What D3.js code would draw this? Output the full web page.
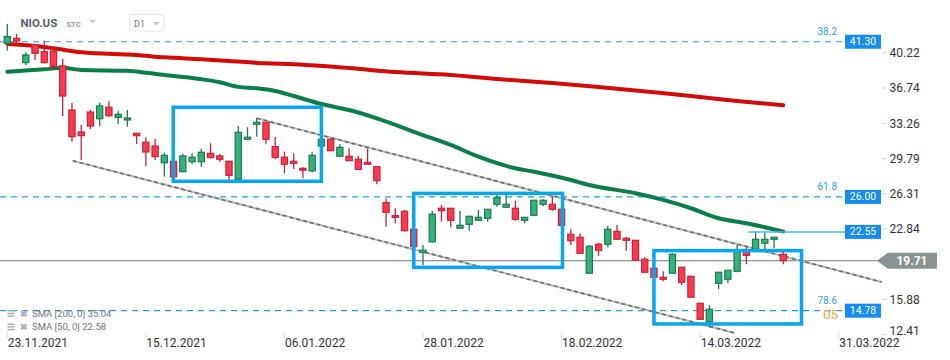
<!DOCTYPE html>
<html><head><meta charset="utf-8">
<script src="https://cdn.jsdelivr.net/npm/d3@7"></script>
<style>body{margin:0;background:#fff}svg{display:block;font-family:Roboto,"Noto Sans",sans-serif}</style>
</head><body><svg id="c" width="950" height="360"></svg>
<script>
// ---- data ----
const opens  = [41.15,41.64,39.24,40.98,40.32,40.39,38.91,34.57,32.40,34.37,33.71,34.84,33.85,33.59,32.27,31.39,31.02,29.37,29.51,28.49,29.47,29.47,30.30,30.04,29.51,27.74,31.68,33.16,33.36,30.95,29.91,29.51,28.82,28.56,31.02,31.68,30.01,30.01,29.71,29.41,28.98,25.43,24.15,24.58,22.81,20.52,21.58,24.88,24.88,22.91,23.30,23.69,23.89,25.27,24.98,24.88,23.69,24.19,25.27,25.27,24.78,22.31,22.02,18.47,21.33,21.33,22.61,21.92,21.72,19.85,18.96,18.07,18.47,19.06,18.17,15.51,13.69,17.48,17.88,18.66,20.64,20.83,21.43,21.82,20.34];
const highs  = [43.05,42.07,40.26,41.08,41.41,40.72,39.60,35.26,33.09,34.57,35.29,35.46,34.50,34.57,32.27,31.88,31.71,30.36,29.51,30.23,30.30,30.75,31.29,30.20,29.51,32.99,32.87,33.78,33.36,31.91,30.46,30.30,28.92,30.40,31.75,31.78,31.19,30.79,30.04,30.79,28.98,25.86,24.88,24.71,22.81,21.26,24.61,25.20,24.88,24.61,24.09,24.71,24.78,26.19,26.19,25.60,23.99,25.67,25.77,26.09,24.78,22.81,22.41,21.26,21.49,23.13,23.23,22.08,21.72,20.04,18.96,18.66,20.44,19.06,18.17,15.51,15.31,18.57,18.76,21.26,21.03,22.57,22.51,22.02,20.60];
const lows   = [40.42,41.08,39.01,39.50,39.15,38.62,33.98,31.45,29.64,32.70,32.99,33.91,33.19,32.93,31.22,29.05,29.64,27.99,27.87,28.49,29.25,28.98,29.87,29.47,27.50,27.74,31.68,31.94,31.19,29.71,28.33,28.75,27.84,28.43,31.02,30.56,30.01,29.57,28.72,29.22,27.24,23.06,23.40,22.57,21.09,19.29,21.48,23.56,23.00,22.91,22.67,23.69,23.56,25.04,24.98,23.65,23.40,24.19,25.07,24.64,23.20,21.26,20.44,18.47,20.20,21.03,21.82,20.70,19.75,18.57,18.07,17.68,18.47,17.28,16.10,13.93,13.14,16.89,17.48,18.57,19.36,20.83,20.83,20.93,19.36];
const closes = [41.80,41.38,40.00,40.16,39.24,38.84,35.95,31.94,32.04,32.99,34.97,34.01,34.15,33.78,32.04,30.43,29.97,30.10,27.99,30.04,29.91,30.40,29.87,29.71,28.13,32.37,31.88,33.36,31.68,29.89,29.22,29.31,28.63,30.10,31.68,30.56,30.89,29.57,28.72,29.22,27.60,24.48,23.99,22.67,21.09,20.74,24.29,24.64,23.69,23.20,24.09,23.99,24.78,25.92,25.27,23.79,23.99,25.67,25.67,24.78,23.20,21.68,20.44,21.13,20.74,22.81,21.82,21.72,19.75,18.57,18.07,17.88,20.34,17.58,16.10,13.93,14.92,18.57,18.76,20.64,20.24,21.82,21.82,22.02,19.71];

const sma200Idx = [0,3,5,8,14,17,21,24,28,31,37,42,48,53,59,64,70,75,79,84];
const sma200Val = [41.08,40.88,40.65,40.26,39.99,39.76,39.57,39.40,39.17,39.08,38.71,38.31,38.02,37.63,37.23,36.84,36.33,35.85,35.46,35.04];
const sma50Idx = [0,4,6,8,13,15,18,21,23,25,27,29,31,34,37,40,45,48,51,55,57,61,63,68,71,74,77,80,84];
const sma50Val = [38.35,38.58,38.74,38.51,38.44,38.25,37.92,37.60,37.30,36.85,36.71,36.45,35.95,35.16,34.57,33.75,32.10,31.12,29.96,28.82,28.48,27.67,27.17,26.36,25.70,24.88,23.89,23.40,22.58];

const yTicks = [40.22,36.74,33.26,29.79,26.31,22.84,15.88,12.41];
const xTickIdx = [0,15,30,45,60,75,90];
const xTickLabels = ["23.11.2021","15.12.2021","06.01.2022","28.01.2022","18.02.2022","14.03.2022","31.03.2022"];

const fibValues = [41.30,26.00,14.78];
const fibLabels = ["38.2","61.8","78.6"];
const alertValue = 22.55;
const lastPrice = 19.71;

// channel lines: [startIdx, startPrice, endIdx, endPrice]
const channelUpper = [27.0,33.75,94.66,17.61];
const channelLower = [7.08,29.57,78.76,12.58];
// highlight boxes: [idx0, idx1, priceTop, priceBottom]
const boxIdx0 = [17.96,44.0,70.0];
const boxIdx1 = [34.0,60.1,85.97];
const boxTop  = [34.84,26.35,20.70];
const boxBot  = [27.54,19.05,13.47];

const smaLegend = ["SMA  [200,  0]  35.04","SMA  [50,  0]  22.58"];

// ---- scales ----
const svg = d3.select("#c");
const x = d3.scaleLinear().domain([0,84]).range([7.3,783.3]);
const y = d3.scaleLinear().domain([12.41,40.22]).range([334.7,52.7]);
const plotRight = 882, plotBottom = 335;

svg.append("defs").append("clipPath").attr("id","clip")
  .append("rect").attr("x",0).attr("y",0).attr("width",plotRight).attr("height",plotBottom);
const plot = svg.append("g").attr("clip-path","url(#clip)");

const blue = "#1f9ee8";

// fib dashed lines
fibValues.forEach((v,i)=>{
  plot.append("line").attr("x1",0).attr("x2",845).attr("y1",y(v)).attr("y2",y(v))
    .attr("stroke",blue).attr("stroke-width",1.2).attr("stroke-dasharray","6,5");
});
// last price line
plot.append("line").attr("x1",0).attr("x2",plotRight).attr("y1",y(lastPrice)).attr("y2",y(lastPrice))
  .attr("stroke","#8c9595").attr("stroke-width",1.2);
// alert line
svg.append("line").attr("x1",x(80.2)).attr("x2",845).attr("y1",y(alertValue)).attr("y2",y(alertValue))
  .attr("stroke","#4fb3f6").attr("stroke-width",1.5);

// channel lines
[channelUpper,channelLower].forEach(c=>{
  plot.append("line").attr("x1",x(c[0])).attr("y1",y(c[1])).attr("x2",x(c[2])).attr("y2",y(c[3]))
    .attr("stroke","#bdbdbd").attr("stroke-width",2);
  plot.append("line").attr("x1",x(c[0])).attr("y1",y(c[1])).attr("x2",x(c[2])).attr("y2",y(c[3]))
    .attr("stroke","#6e6e6e").attr("stroke-width",1.6).attr("stroke-dasharray","4,3");
});

// SMA lines
const lineGen = d3.line().x(d=>x(d[0])).y(d=>y(d[1])).curve(d3.curveMonotoneX);
plot.append("path").attr("d",lineGen(sma200Idx.map((k,i)=>[k,sma200Val[i]])))
  .attr("fill","none").attr("stroke","#d40a0a").attr("stroke-width",4).attr("stroke-linecap","round");
plot.append("path").attr("d",lineGen(sma50Idx.map((k,i)=>[k,sma50Val[i]])))
  .attr("fill","none").attr("stroke","#0b7d4b").attr("stroke-width",4).attr("stroke-linecap","round");

// candles
const candles = opens.map((o,i)=>({i,o,h:highs[i],l:lows[i],c:closes[i]}));
const bw = 6.2;
const cg = plot.append("g").selectAll("g").data(candles).join("g");
cg.append("line").attr("x1",d=>x(d.i)).attr("x2",d=>x(d.i)).attr("y1",d=>y(d.h)).attr("y2",d=>y(d.l))
  .attr("stroke",d=>d.c>=d.o?"#1c7a4c":"#c3243a").attr("stroke-width",1.3);
cg.append("rect").attr("x",d=>x(d.i)-bw/2).attr("width",bw)
  .attr("y",d=>y(Math.max(d.o,d.c))).attr("height",d=>Math.max(1.5,Math.abs(y(d.o)-y(d.c))))
  .attr("fill",d=>d.c>=d.o?"#34b27a":"#fb3a52").attr("stroke",d=>d.c>=d.o?"#1c7a4c":"#c3243a").attr("stroke-width",1.2);

// highlight boxes
boxIdx0.forEach((b,i)=>{
  svg.append("rect").attr("x",x(b)).attr("y",y(boxTop[i]))
    .attr("width",x(boxIdx1[i])-x(b)).attr("height",y(boxBot[i])-y(boxTop[i]))
    .attr("fill","none").attr("stroke","#07a6ee").attr("stroke-width",3.5);
});

// right-side labels for fib / alert
fibValues.forEach((v,i)=>{
  svg.append("text").attr("x",837).attr("y",y(v)-6.5).attr("text-anchor","end")
    .attr("font-size",10).attr("fill","#2c9ee8").text(fibLabels[i]);
});
svg.append("text").attr("x",823).attr("y",y(fibValues[2])+8.8).attr("font-size",13.5)
  .attr("fill","#f6a12a").attr("opacity",0.9).text("05");
[...fibValues,alertValue].forEach(v=>{
  svg.append("rect").attr("x",845).attr("y",y(v)-7).attr("width",36).attr("height",14).attr("fill","#148cf0");
  svg.append("text").attr("x",863).attr("y",y(v)+3.6).attr("text-anchor","middle")
    .attr("font-size",10.5).attr("fill","#fff").text(v.toFixed(2));
});

// y-axis
yTicks.forEach(t=>{
  const yy = Math.min(y(t),330.5);
  svg.append("line").attr("x1",882).attr("x2",887).attr("y1",y(t)).attr("y2",y(t)).attr("stroke","#d6d6d6");
  svg.append("text").attr("x",889.5).attr("y",yy+4.3).attr("font-size",12).attr("fill","#333").text(t.toFixed(2));
});
// last price marker
const ly = y(lastPrice);
svg.append("path").attr("d",`M877,${ly} L888,${ly-8} L937,${ly-8} L937,${ly+8} L888,${ly+8} Z`).attr("fill","#8a9393");
svg.append("text").attr("x",912).attr("y",ly+4.2).attr("text-anchor","middle")
  .attr("font-size",12).attr("font-weight","bold").attr("fill","#fff").text(lastPrice.toFixed(2));

// x-axis
xTickIdx.forEach((k,i)=>{
  const xx = x(k);
  svg.append("line").attr("x1",xx).attr("x2",xx).attr("y1",333).attr("y2",338).attr("stroke","#d6d6d6");
  svg.append("text").attr("x",xx+0.5).attr("y",347).attr("font-size",12).attr("fill","#333").text(xTickLabels[i]);
});

// header
svg.append("text").attr("x",20.5).attr("y",26.7).attr("font-size",11.5).attr("font-weight","bold").attr("fill","#56616b").text("NIO.US");
svg.append("text").attr("x",66.5).attr("y",26.5).attr("font-size",7.5).attr("font-weight","bold").attr("fill","#8d98a2").text("STC");
svg.append("path").attr("d","M89,20 L96,20 L92.5,23.5 Z").attr("fill","#c2c8cd");
svg.append("rect").attr("x",129.5).attr("y",14.5).attr("width",34.5).attr("height",16.5).attr("rx",3)
  .attr("fill","#fff").attr("stroke","#e2e5e8");
svg.append("text").attr("x",134).attr("y",26.7).attr("font-size",9).attr("fill","#6c757d").text("D1");
svg.append("path").attr("d","M153,22 L160,22 L156.5,25.5 Z").attr("fill","#c2c8cd");

// legend
smaLegend.forEach((s,i)=>{
  const by = 316.5 + i*13.5;
  const g = svg.append("g").attr("fill","#a7aeb3");
  g.append("rect").attr("x",7.5).attr("y",by-6.5).attr("width",7).attr("height",1.5);
  g.append("rect").attr("x",7.5).attr("y",by-3.8).attr("width",7).attr("height",1.5);
  g.append("rect").attr("x",7.5).attr("y",by-1.1).attr("width",7).attr("height",1.5);
  svg.append("text").attr("x",20).attr("y",by).attr("font-size",9).attr("font-weight","bold").attr("fill","#a7aeb3").text("✖");
  svg.append("text").attr("x",32).attr("y",by).attr("font-size",9.5).attr("fill","#6d757a").text(s);
});
</script></body></html>
